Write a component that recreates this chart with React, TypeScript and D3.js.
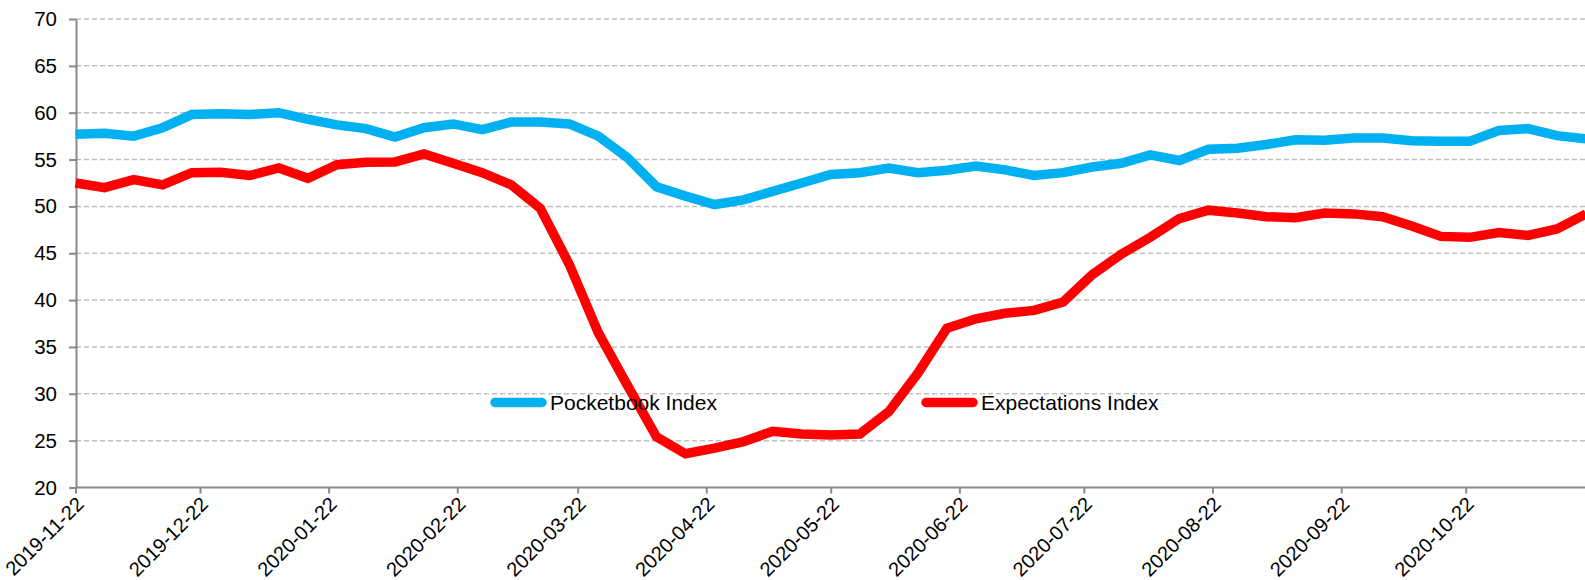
import { useEffect, useRef } from 'react'
import * as d3 from 'd3'

// weekly readings, first week 2019-11-22
const startDate = '2019-11-22'
const pocketbook = [
  57.7, 57.8, 57.5, 58.4, 59.8, 59.9, 59.8, 60.0, 59.3, 58.7, 58.3, 57.4, 58.4, 58.8,
  58.2, 59.0, 59.0, 58.8, 57.5, 55.2, 52.1, 51.1, 50.2, 50.7, 51.6, 52.5, 53.4, 53.6,
  54.1, 53.6, 53.85, 54.3, 53.9, 53.3, 53.6, 54.2, 54.6, 55.5, 54.9, 56.1, 56.2, 56.6,
  57.1, 57.05, 57.3, 57.3, 57.0, 56.95, 56.95, 58.1, 58.3, 57.55, 57.2,
]
const expectations = [
  52.5, 52.0, 52.85, 52.3, 53.6, 53.65, 53.3, 54.1, 53.0, 54.45, 54.7, 54.75, 55.6, 54.6,
  53.6, 52.3, 49.8, 43.8, 36.5, 30.9, 25.4, 23.6, 24.2, 24.9, 26.0, 25.7, 25.6, 25.7,
  28.1, 32.2, 37.0, 38.0, 38.6, 38.9, 39.8, 42.7, 44.9, 46.7, 48.7, 49.6, 49.3, 48.9,
  48.8, 49.3, 49.2, 48.9, 47.9, 46.8, 46.7, 47.2, 46.9, 47.6, 49.2,
]
const xTickLabels = [
  '2019-11-22', '2019-12-22', '2020-01-22', '2020-02-22', '2020-03-22', '2020-04-22',
  '2020-05-22', '2020-06-22', '2020-07-22', '2020-08-22', '2020-09-22', '2020-10-22',
]
const yTicks = [20, 25, 30, 35, 40, 45, 50, 55, 60, 65, 70]
const seriesNames = ['Pocketbook Index', 'Expectations Index']
const seriesColors = ['#00b0f0', '#ff0000']

export default function App() {
  const ref = useRef<SVGSVGElement | null>(null)

  useEffect(() => {
    document.body.style.margin = '0'
    if (!ref.current) return
    const font = 'Arial, "Liberation Sans", sans-serif'

    const svg = d3.select(ref.current)
    svg.selectAll('*').remove()

    const parse = d3.utcParse('%Y-%m-%d')
    const start = parse(startDate) as Date
    const dates = pocketbook.map((_, i) => d3.utcDay.offset(start, 7 * i))

    const x = d3
      .scaleUtc()
      .domain([start, dates[dates.length - 1]])
      .range([75.5, 1586])
    const y = d3.scaleLinear().domain([20, 70]).range([487.5, 19])
    const left = 76
    const right = 1585

    // gridlines
    svg
      .append('g')
      .selectAll('line')
      .data(yTicks.filter((d) => d > 20))
      .enter()
      .append('line')
      .attr('x1', left)
      .attr('x2', right)
      .attr('y1', (d) => y(d))
      .attr('y2', (d) => y(d))
      .attr('stroke', '#c0c0c0')
      .attr('stroke-width', 1.5)
      .attr('stroke-dasharray', '5,3')

    // y axis
    const yAxis = svg
      .append('g')
      .attr('transform', `translate(${left},0)`)
      .call(d3.axisLeft(y).tickValues(yTicks).tickSize(7).tickSizeOuter(0).tickPadding(12))
    yAxis.select('.domain').attr('stroke', '#898989').attr('stroke-width', 2)
    yAxis.selectAll('.tick line').attr('stroke', '#898989').attr('stroke-width', 2)
    yAxis
      .selectAll('.tick text')
      .attr('fill', '#000')
      .attr('font-size', 20.5)
      .attr('font-family', font)

    // x axis
    const xTickDates = xTickLabels.map((s) => parse(s) as Date)
    const xAxis = svg
      .append('g')
      .attr('transform', `translate(0,${y(20)})`)
      .call(
        d3
          .axisBottom(x)
          .tickValues(xTickDates)
          .tickSize(6)
          .tickSizeOuter(0)
          .tickFormat((d) => d3.utcFormat('%Y-%m-%d')(d as Date)),
      )
    xAxis.select('.domain').attr('d', `M${left},0H${right}`).attr('stroke', '#898989').attr('stroke-width', 2)
    xAxis.selectAll('.tick line').attr('stroke', '#898989').attr('stroke-width', 2)
    xAxis
      .selectAll('.tick text')
      .attr('fill', '#000')
      .attr('font-size', 20)
      .attr('font-family', font)
      .attr('text-anchor', 'end')
      .attr('dy', null)
      .attr('y', 0)
      .attr('transform', 'translate(9,18) rotate(-45)')

    // lines
    const series = [pocketbook, expectations]
    const line = d3
      .line<number>()
      .x((_, i) => x(dates[i]))
      .y((d) => y(d))

    series.forEach((vals, k) => {
      svg
        .append('path')
        .datum(vals)
        .attr('d', line)
        .attr('fill', 'none')
        .attr('stroke', seriesColors[k])
        .attr('stroke-width', 9.5)
        .attr('stroke-linejoin', 'miter')
    })

    // legend
    const legendX = [490, 921]
    const legend = svg
      .selectAll('.legend')
      .data(seriesNames)
      .enter()
      .append('g')
      .attr('class', 'legend')
      .attr('transform', (_, i) => `translate(${legendX[i]},402.5)`)
    legend
      .append('line')
      .attr('x1', 5)
      .attr('x2', 52)
      .attr('stroke', (_, i) => seriesColors[i])
      .attr('stroke-width', 9.5)
      .attr('stroke-linecap', 'round')
    legend
      .append('text')
      .attr('x', 60)
      .attr('dy', '0.35em')
      .attr('font-size', 21)
      .attr('font-family', font)
      .attr('fill', '#000')
      .text((d) => d)
  }, [])

  return (
    <svg
      ref={ref}
      width={1585}
      height={580}
      viewBox="0 0 1585 580"
      style={{ display: 'block', background: '#fff' }}
      role="img"
      aria-label="Pocketbook and Expectations Index"
    />
  )
}
